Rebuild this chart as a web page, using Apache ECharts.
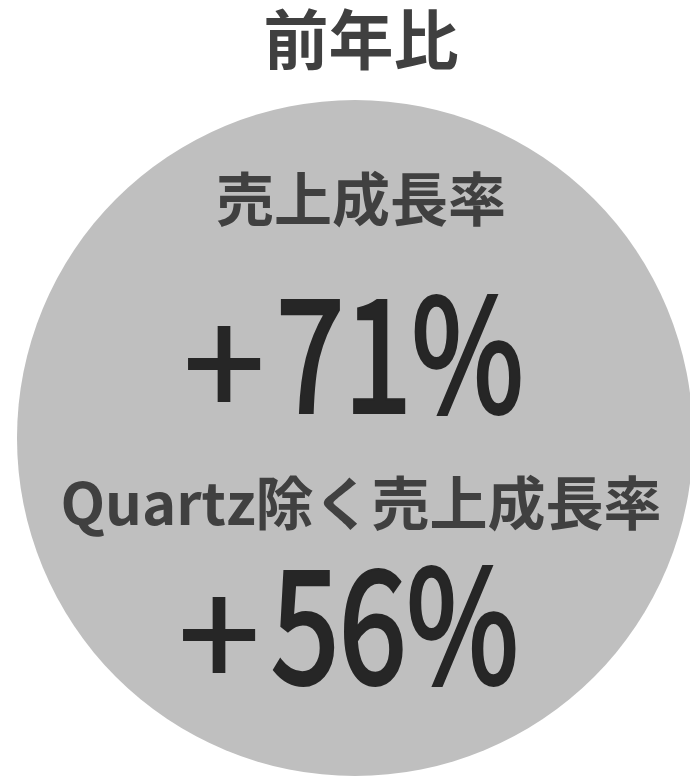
<!DOCTYPE html>
<html>
<head>
<meta charset="utf-8">
<script src="https://cdn.jsdelivr.net/npm/echarts@6/dist/echarts.min.js"></script>
<style>
html,body{margin:0;padding:0;background:#fff;}
#main{width:690px;height:777px;}
</style>
</head>
<body>
<div id="main"></div>
<script>
const chartTitle = '前年比';
const metricLabels = ['売上成長率', 'Quartz除く売上成長率'];
const growthValues = [71, 56];
const circleData = [1];

const chart = echarts.init(document.getElementById('main'), null, {renderer: 'canvas'});
const cjk = '"Noto Sans CJK JP", "Noto Sans CJK SC", sans-serif';

const labelY = [199, 503];
const valueY = [353, 624];
const plusX = [224, 219];
const numX = [400, 395];
const graphics = [];
metricLabels.forEach((t, i) => {
  graphics.push({
    type: 'text', x: 361, y: labelY[i], z: 10,
    style: {text: t, font: 'bold 58px ' + cjk, fill: '#404040', textAlign: 'center', textVerticalAlign: 'middle'}
  });
  graphics.push({
    type: 'text', x: plusX[i], y: valueY[i] + 10, z: 10,
    style: {text: growthValues[i] >= 0 ? '+' : '-', font: 'normal 146px ' + cjk, fill: '#262626',
      stroke: '#262626', lineWidth: 2, textAlign: 'center', textVerticalAlign: 'middle'}
  });
  graphics.push({
    type: 'text', x: numX[i], y: valueY[i], z: 10, scaleX: 0.78,
    style: {text: Math.abs(growthValues[i]) + '%', font: 'normal 156px ' + cjk, fill: '#262626',
      stroke: '#262626', lineWidth: 4, textAlign: 'center', textVerticalAlign: 'middle'}
  });
});

chart.setOption({
  animation: false,
  backgroundColor: '#ffffff',
  title: {
    text: chartTitle,
    left: 356, top: 2, textAlign: 'center',
    textStyle: {fontSize: 65, fontWeight: 'bold', color: '#404040', fontFamily: cjk}
  },
  series: [{
    type: 'pie',
    silent: true,
    center: [355, 438],
    radius: [0, 338],
    startAngle: 90,
    label: {show: false},
    labelLine: {show: false},
    itemStyle: {color: '#bfbfbf', borderWidth: 0},
    emphasis: {disabled: true},
    data: circleData.map(v => ({value: v}))
  }],
  graphic: graphics
});
</script>
</body>
</html>
